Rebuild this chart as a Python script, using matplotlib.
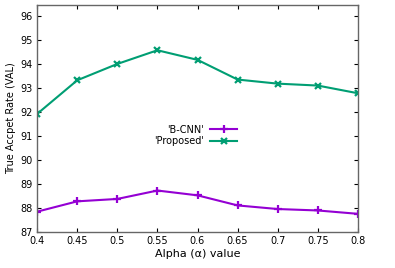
import matplotlib
matplotlib.use("Agg")
import matplotlib.pyplot as plt

# alpha values and accuracy (VAL)
alpha = [0.4, 0.45, 0.5, 0.55, 0.6, 0.65, 0.7, 0.75, 0.8]
bcnn = [87.85, 88.28, 88.38, 88.73, 88.53, 88.11, 87.96, 87.9, 87.76]
proposed = [91.92, 93.32, 94.0, 94.57, 94.17, 93.35, 93.18, 93.1, 92.78]
xticks = [0.4, 0.45, 0.5, 0.55, 0.6, 0.65, 0.7, 0.75, 0.8]
xticklabels = ["0.4", "0.45", "0.5", "0.55", "0.6", "0.65", "0.7", "0.75", "0.8"]
yticks = [87, 88, 89, 90, 91, 92, 93, 94, 95, 96]

plt.rcParams["font.size"] = 7

fig = plt.figure(figsize=(3.95, 2.68), dpi=100)
ax = fig.add_axes([0.094, 0.134, 0.812, 0.847])

ax.plot(alpha, bcnn, color="#9400D3", lw=1.5, marker="+", ms=6, mew=1.6, label="'B-CNN'")
ax.plot(alpha, proposed, color="#009E73", lw=1.5, marker="x", ms=5, mew=1.6, label="'Proposed'")

ax.set_xlim(0.4, 0.8)
ax.set_ylim(87, 96.45)
ax.set_xticks(xticks)
ax.set_xticklabels(xticklabels)
ax.set_yticks(yticks)
ax.tick_params(direction="in", top=True, right=True, length=3, width=0.8, pad=3)
for s in ax.spines.values():
    s.set_color("#666666")
    s.set_linewidth(1.0)

ax.set_xlabel("Alpha (\u03b1) value", fontsize=8, labelpad=2)
ax.set_ylabel("True Accpet Rate (VAL)", fontsize=7, labelpad=3)

leg = ax.legend(loc="center", bbox_to_anchor=(0.495, 0.426), frameon=False,
                markerfirst=False, handlelength=2.8, handletextpad=0.6,
                labelspacing=0.15, fontsize=7)

fig.savefig("out.png", dpi=100)
